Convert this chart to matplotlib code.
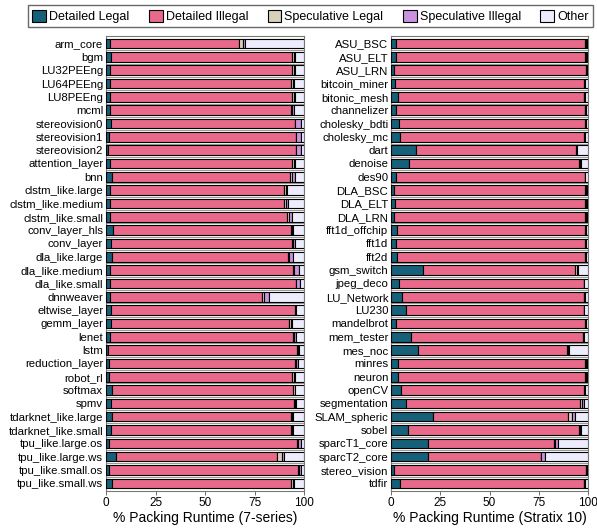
import matplotlib
matplotlib.use("Agg")
import matplotlib.pyplot as plt
from matplotlib.patches import Patch

plt.rcParams['font.family'] = ['Liberation Sans', 'DejaVu Sans']

series = ["Detailed Legal", "Detailed Illegal", "Speculative Legal", "Speculative Illegal", "Other"]
colors = ["#17607a", "#e8698a", "#d8cfbc", "#c993e0", "#ececfc"]

left_names = ["arm_core", "bgm", "LU32PEEng", "LU64PEEng", "LU8PEEng", "mcml",
              "stereovision0", "stereovision1", "stereovision2", "attention_layer", "bnn",
              "clstm_like.large", "clstm_like.medium", "clstm_like.small", "conv_layer_hls",
              "conv_layer", "dla_like.large", "dla_like.medium", "dla_like.small", "dnnweaver",
              "eltwise_layer", "gemm_layer", "lenet", "lstm", "reduction_layer", "robot_rl",
              "softmax", "spmv", "tdarknet_like.large", "tdarknet_like.small",
              "tpu_like.large.os", "tpu_like.large.ws", "tpu_like.small.os", "tpu_like.small.ws"]
left_dl = [2.0, 2.5, 2.2, 2.2, 2.2, 2.2, 2.5, 1.7, 1.2, 2.2, 3.0, 2.2, 2.2, 2.2, 3.4, 2.5, 2.9,
           2.2, 1.9, 2.2, 2.5, 2.5, 2.0, 1.2, 1.3, 1.3, 3.0, 2.5, 2.9, 2.5, 1.7, 4.9, 1.7, 2.9]
left_di = [65.2, 91.6, 91.9, 91.4, 91.9, 91.2, 92.7, 94.1, 94.6, 91.9, 89.9, 87.5, 87.9, 89.4,
           89.9, 91.3, 88.8, 92.4, 93.9, 76.7, 92.7, 90.1, 92.6, 95.4, 94.3, 92.8, 91.6, 92.4,
           90.4, 90.8, 94.9, 81.3, 95.3, 90.4]
left_sl = [2.2, 0.8, 0.8, 0.8, 0.8, 0.7, 0.3, 0.3, 0.3, 0.8, 0.8, 1.0, 0.9, 0.8, 0.6, 0.8, 0.6,
           0.3, 0.3, 1.0, 0.5, 0.7, 0.4, 0.5, 0.3, 0.8, 0.6, 0.6, 0.6, 0.6, 0.3, 2.5, 0.3, 1.0]
left_si = [0.6, 0.6, 0.6, 0.6, 0.6, 0.6, 3.0, 2.4, 2.4, 0.6, 1.8, 0.9, 1.1, 1.4, 0.5, 1.0, 2.3,
           2.5, 2.0, 2.4, 0.3, 0.7, 0.9, 0.5, 0.9, 0.7, 0.4, 0.4, 0.5, 0.5, 1.4, 1.2, 1.2, 0.7]
left_other = [30.0, 4.5, 4.5, 5.0, 4.5, 5.3, 1.5, 1.5, 1.5, 4.5, 4.5, 8.4, 7.9, 6.2, 5.6, 4.4,
              5.4, 2.6, 1.9, 17.7, 4.0, 6.0, 4.1, 2.4, 3.2, 4.4, 4.4, 4.1, 5.6, 5.6, 1.7, 10.1,
              1.5, 5.0]

right_names = ["ASU_BSC", "ASU_ELT", "ASU_LRN", "bitcoin_miner", "bitonic_mesh", "channelizer",
               "cholesky_bdti", "cholesky_mc", "dart", "denoise", "des90", "DLA_BSC", "DLA_ELT",
               "DLA_LRN", "fft1d_offchip", "fft1d", "fft2d", "gsm_switch", "jpeg_deco",
               "LU_Network", "LU230", "mandelbrot", "mem_tester", "mes_noc", "minres", "neuron",
               "openCV", "segmentation", "SLAM_spheric", "sobel", "sparcT1_core", "sparcT2_core",
               "stereo_vision", "tdfir"]
right_dl = [2.4, 2.4, 1.7, 2.0, 3.4, 2.7, 3.9, 4.6, 12.9, 9.0, 2.4, 1.7, 2.0, 1.4, 3.0, 2.7, 3.0,
            16.1, 3.9, 5.4, 7.4, 2.5, 10.0, 13.5, 3.7, 3.7, 5.2, 7.8, 21.3, 8.6, 18.6, 18.8, 1.5, 4.6]
right_di = [96.2, 96.2, 97.1, 96.1, 94.6, 95.8, 94.7, 93.5, 81.2, 86.3, 95.9, 96.9, 96.6, 97.2,
            95.6, 95.9, 95.6, 77.5, 93.9, 92.6, 90.4, 96.1, 87.3, 75.8, 94.9, 94.9, 92.6, 88.3,
            68.5, 87.0, 64.0, 57.2, 97.3, 93.2]
right_sl = [0.4, 0.4, 0.4, 0.2, 0.2, 0.2, 0.2, 0.2, 0.3, 0.6, 0.2, 0.5, 0.5, 0.5, 0.2, 0.2, 0.2,
            0.8, 0.2, 0.2, 0.2, 0.2, 0.3, 0.7, 0.4, 0.4, 0.5, 1.0, 2.1, 0.5, 0.6, 0.3, 0.4, 0.4]
right_si = [0.5, 0.5, 0.3, 0.2, 0.2, 0.2, 0.2, 0.2, 0.2, 0.5, 0.2, 0.4, 0.4, 0.4, 0.2, 0.2, 0.2,
            0.6, 0.2, 0.2, 0.2, 0.2, 0.3, 0.5, 0.5, 0.5, 0.3, 0.7, 1.3, 0.5, 1.4, 1.7, 0.3, 0.3]
right_other = [0.5, 0.5, 0.5, 1.5, 1.6, 1.1, 1.0, 1.5, 5.4, 3.6, 1.3, 0.5, 0.5, 0.5, 1.0, 1.0,
               1.0, 5.0, 1.8, 1.6, 1.8, 1.0, 2.1, 9.5, 0.5, 0.5, 1.4, 2.2, 6.8, 3.4, 15.4, 22.0,
               0.5, 1.5]

xticks = [0, 25, 50, 75, 100]

fig = plt.figure(figsize=(5.97, 5.29), dpi=100)
ax_l = fig.add_axes([0.1776, 0.072, 0.3317, 0.860])
ax_r = fig.add_axes([0.655, 0.072, 0.330, 0.860])


def draw(ax, names, cols, xlabel):
    y = list(range(len(names)))
    left = [0.0] * len(names)
    for vals, c in zip(cols, colors):
        ax.barh(y, vals, left=left, height=0.72, color=c, edgecolor="black",
                linewidth=0.8, zorder=3)
        left = [a + b for a, b in zip(left, vals)]
    for i in range(len(names) - 1):
        ax.axhline(i + 0.5, color="#9a9a9a", linewidth=0.8, zorder=1)
    ax.set_yticks(y)
    ax.set_yticklabels(names, fontsize=8.2)
    ax.set_ylim(len(names) - 0.43, -0.57)
    ax.set_xlim(0, 100)
    ax.set_xticks(xticks)
    ax.set_xticklabels([str(t) for t in xticks], fontsize=8.5)
    ax.tick_params(axis="y", length=0, pad=2)
    ax.tick_params(axis="x", length=3, width=0.6, color="#555555", pad=1.5)
    ax.set_xlabel(xlabel, fontsize=10, labelpad=1)
    for s in ax.spines.values():
        s.set_color("#777777")
        s.set_linewidth(0.8)


draw(ax_l, left_names, [left_dl, left_di, left_sl, left_si, left_other],
     "% Packing Runtime (7-series)")
draw(ax_r, right_names, [right_dl, right_di, right_sl, right_si, right_other],
     "% Packing Runtime (Stratix 10)")

handles = [Patch(facecolor=c, edgecolor="black", linewidth=0.8) for c in colors]
leg = fig.legend(handles, series, loc="upper center", bbox_to_anchor=(0.52, 0.995), ncol=5,
                 fontsize=9, frameon=True, fancybox=False, handlelength=1.1, handleheight=1.1,
                 handletextpad=0.25, columnspacing=1.55, borderpad=0.35, borderaxespad=0.2)
leg.get_frame().set_edgecolor("#444444")
leg.get_frame().set_linewidth(1.0)

fig.savefig("out.png", dpi=100)
